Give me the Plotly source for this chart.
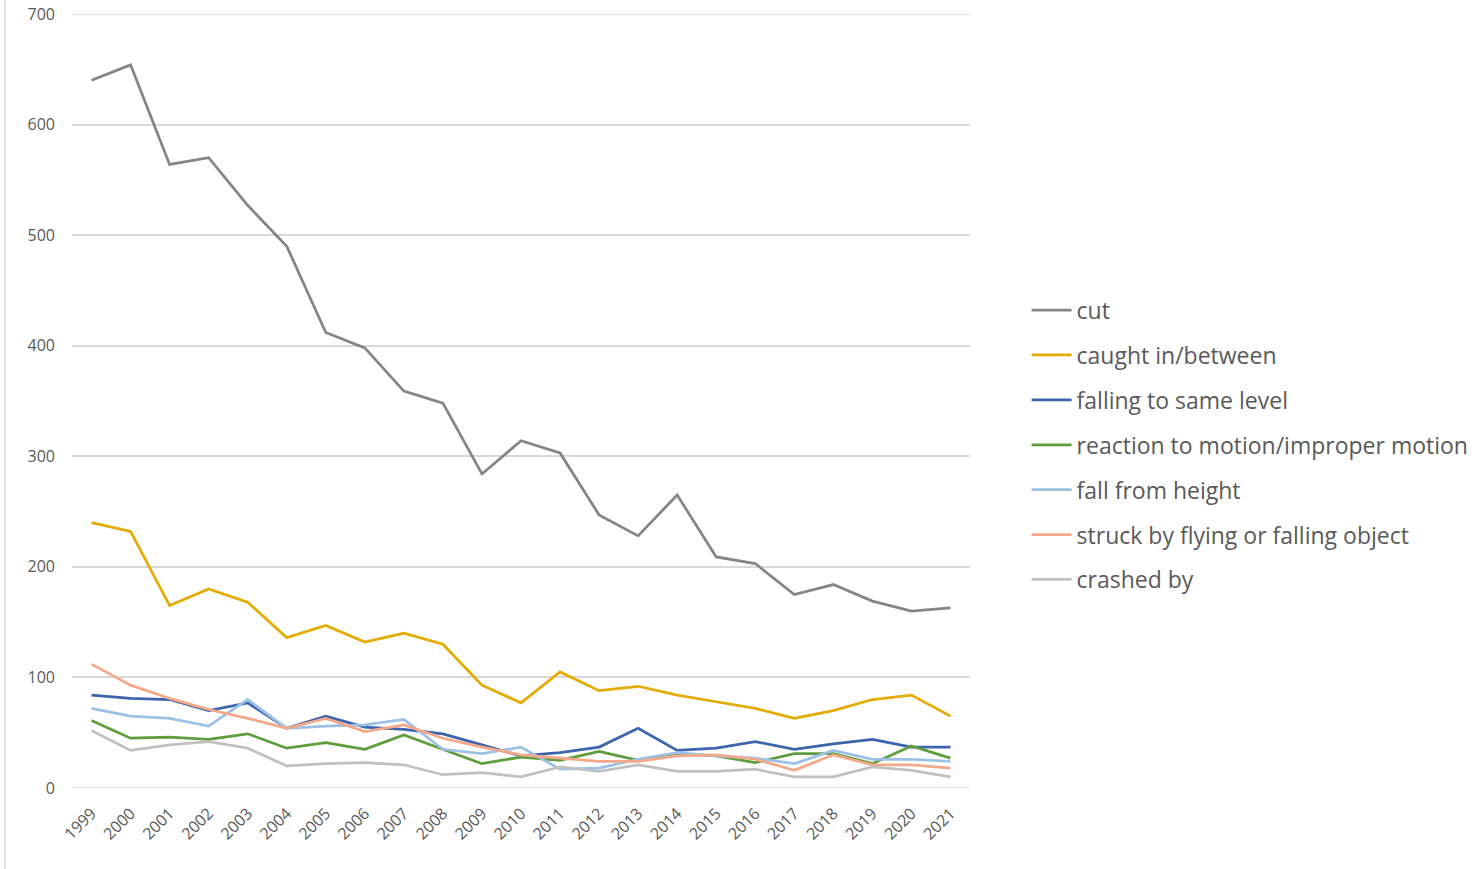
import plotly.graph_objects as go

years = [str(y) for y in range(1999, 2022)]

cut = [640, 654, 564, 570, 527, 490, 412, 398, 359, 348, 284, 314, 303, 247, 228, 265, 209, 203, 175, 184, 169, 160, 163]
caught = [240, 232, 165, 180, 168, 136, 147, 132, 140, 130, 93, 77, 105, 88, 92, 84, 78, 72, 63, 70, 80, 84, 65]
same_level = [84, 81, 80, 70, 77, 54, 65, 55, 53, 49, 39, 29, 32, 37, 54, 34, 36, 42, 35, 40, 44, 37, 37]
reaction = [61, 45, 46, 44, 49, 36, 41, 35, 48, 35, 22, 28, 25, 33, 25, 31, 29, 23, 31, 31, 22, 38, 27]
fall_height = [72, 65, 63, 56, 80, 54, 56, 57, 62, 35, 31, 37, 17, 18, 26, 32, 29, 27, 22, 34, 26, 26, 24]
struck = [112, 93, 81, 71, 63, 54, 63, 51, 57, 45, 37, 30, 27, 24, 24, 29, 30, 26, 16, 30, 21, 21, 18]
crashed = [52, 34, 39, 42, 36, 20, 22, 23, 21, 12, 14, 10, 19, 15, 21, 15, 15, 17, 10, 10, 19, 16, 10]

y_max = 700

series = [
    ("cut", cut, "#858585"),
    ("caught in/between", caught, "#E5AB00"),
    ("falling to same level", same_level, "#3D64AE"),
    ("reaction to motion/improper motion", reaction, "#5E9D3C"),
    ("fall from height", fall_height, "#9CC0E6"),
    ("struck by flying or falling object", struck, "#F4A88A"),
    ("crashed by", crashed, "#C0C0C0"),
]

fig = go.Figure()
for i, (name, vals, color) in enumerate(series):
    fig.add_trace(go.Scatter(
        x=years, y=vals, mode="lines", name=name,
        line=dict(color=color, width=2.75),
        legendgroup=f"g{i}",
    ))

font_family = "Open Sans, Noto Sans, Liberation Sans, sans-serif"

fig.update_layout(
    width=1478, height=869,
    margin=dict(l=72, r=508, t=14, b=81, autoexpand=False),
    plot_bgcolor="white", paper_bgcolor="white",
    font=dict(family=font_family, color="#595959", size=15),
    showlegend=True,
    legend=dict(
        x=1.063, xanchor="left", y=0.443, yanchor="middle",
        font=dict(size=23, color="#595959"),
        tracegroupgap=12,
        itemwidth=40,
        bgcolor="rgba(0,0,0,0)",
    ),
    xaxis=dict(
        type="category", range=[-0.5, 22.5], tickangle=-45, showgrid=False, zeroline=False,
        showline=False, ticks="", automargin=False, ticklabelstandoff=12,
        tickfont=dict(size=16, color="#595959"),
    ),
    yaxis=dict(
        range=[0, y_max], dtick=100, showgrid=True, gridcolor="#D9D9D9", gridwidth=1.5,
        zeroline=False, showline=False, ticks="", automargin=False, ticklabelstandoff=16,
        ticklabeloverflow="allow",
        tickfont=dict(size=16, color="#595959"),
    ),
    shapes=[
        dict(type="line", xref="paper", yref="paper", x0=-0.0746, x1=-0.0746, y0=-0.12, y1=1.03,
             line=dict(color="#D9D9D9", width=1.5)),
        dict(type="line", xref="paper", yref="y", x0=0, x1=1, y0=0, y1=0,
             line=dict(color="#D9D9D9", width=1.5), layer="below"),
        dict(type="line", xref="paper", yref="y", x0=0, x1=1, y0=y_max, y1=y_max,
             line=dict(color="#D9D9D9", width=1.5), layer="below"),
    ],
)

fig.write_html(
    "out.html",
    config={"displayModeBar": False},
    post_script="document.body.style.margin='0';",
)
